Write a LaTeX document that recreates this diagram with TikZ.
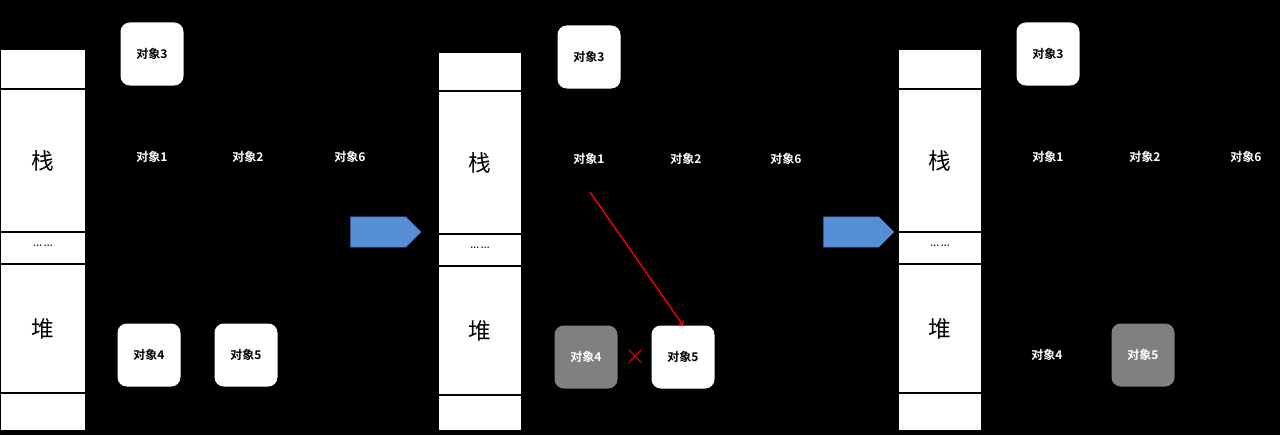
\documentclass[tikz,border=0pt]{standalone}
\usepackage{fontspec}
\newfontfamily\cjk{Noto Sans CJK SC}
\newfontfamily\cjkb{Noto Sans CJK SC Bold}
\usetikzlibrary{shapes.arrows}
\begin{document}
\begin{tikzpicture}[x=0.75pt,y=-0.75pt,
 obj/.style={rounded corners=7pt,minimum width=47.25pt,minimum height=47.25pt,font=\cjkb\fontsize{9}{9}\selectfont,inner sep=0pt},
 wobj/.style={obj,fill=white,text=black},
 gobj/.style={obj,fill=gray,text=white},
 tobj/.style={font=\cjkb\fontsize{9}{9}\selectfont,text=white,inner sep=1pt},
 mem/.style={draw=black,fill=white,line width=1pt},
 big/.style={font=\cjk\fontsize{17}{17}\selectfont},
 barrow/.style={single arrow,fill={rgb,255:red,85;green,142;blue,213},draw=none,minimum height=53pt,minimum width=23pt,single arrow head extend=0pt,inner sep=0pt,single arrow tip angle=90}
]
\fill[black] (0,0) rectangle (1280,435);
\useasboundingbox (0,0) rectangle (1280,435);
% panel stacks
\foreach \xa/\xb/\t/\da/\db/\dc/\dd/\nm in {0/86/49/89/232/264/393/a,438/522/52/91/234/266/395/b,898/982/49/89/232/264/393/c}{
 \draw[mem] (\xa,\t) rectangle (\xb,431);
 \foreach \d in {\da,\db,\dc,\dd} \draw[black,line width=1pt] (\xa,\d) -- (\xb,\d);
 \node[big] (zhan\nm) at ({(\xa+\xb)/2},{(\da+\db)/2}) {栈};
 \node[big] (dui\nm) at ({(\xa+\xb)/2},{(\dc+\dd)/2}) {堆};
 \node[font=\fontsize{12}{12}\selectfont] (dots\nm) at ({(\xa+\xb)/2},{(\db+\dc)/2-2}) {……};
}
% panel 1
\node[wobj] (a3) at (152,54) {对象3};
\node[tobj] (a1) at (152,157) {对象1};
\node[tobj] (a2) at (248,157) {对象2};
\node[tobj] (a6) at (350,157) {对象6};
\node[wobj] (a4) at (149,355) {对象4};
\node[wobj] (a5) at (246,355) {对象5};
% panel 2
\node[wobj] (b3) at (589,57) {对象3};
\node[tobj] (b1) at (589,159) {对象1};
\node[tobj] (b2) at (686,159) {对象2};
\node[tobj] (b6) at (786,159) {对象6};
\node[gobj] (b4) at (586,357) {对象4};
\node[wobj] (b5) at (683,357) {对象5};
\coordinate (rs) at (590,192);
\draw[red,line width=1pt,->] (rs) -- (b5.north);
\node[text=red,font=\fontsize{20}{20}\selectfont\bfseries,inner sep=0pt] (x) at (635,357) {$\times$};
% panel 3
\node[wobj] (c3) at (1048,54) {对象3};
\node[tobj] (c1) at (1048,157) {对象1};
\node[tobj] (c2) at (1145,157) {对象2};
\node[tobj] (c6) at (1246,157) {对象6};
\node[tobj] (c4) at (1047,355) {对象4};
\node[gobj] (c5) at (1143,355) {对象5};
% arrows
\node[barrow] (ar1) at (378,232) {};
\node[barrow] (ar2) at (851,232) {};
\end{tikzpicture}
\end{document}
